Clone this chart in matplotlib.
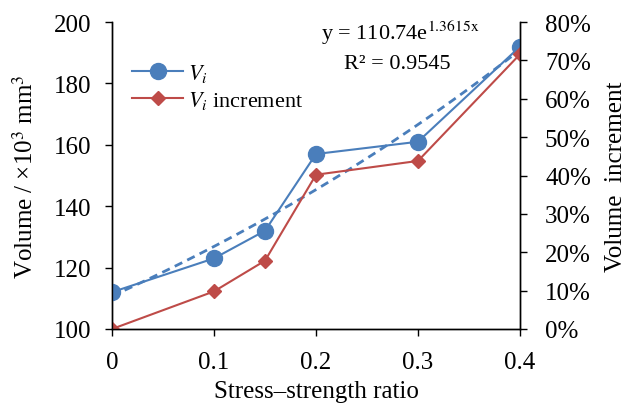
import numpy as np
import matplotlib
matplotlib.use("Agg")
import matplotlib.pyplot as plt
from matplotlib.ticker import PercentFormatter

plt.rcParams['font.family'] = ['Liberation Serif', 'DejaVu Serif']
plt.rcParams['mathtext.fontset'] = 'stix'
plt.rcParams['font.size'] = 18

# data
ratio = [0, 0.1, 0.15, 0.2, 0.3, 0.4]
volume = [112, 123, 132, 157, 161, 192]
increment = [0, 9.8, 17.8, 40.2, 43.8, 71.6]   # percent

# exponential trendline shown on the chart
fit_a = 110.74
fit_b = 1.3615

blue = '#4A7EBB'
red = '#BE4B48'

fig = plt.figure(figsize=(6.36, 4.10), dpi=100)
ax = fig.add_axes([112/636, 80/410, 408/636, 307/410])
ax2 = ax.twinx()

l1, = ax.plot(ratio, volume, color=blue, lw=1.5, marker='o', ms=11.5,
              label='$V_i$', zorder=3)
xs = np.linspace(0, 0.4, 100)
ax.plot(xs, fit_a * np.exp(fit_b * xs), color=blue, lw=2, ls=(0, (3, 2)), zorder=2)

l2, = ax2.plot(ratio, increment, color=red, lw=1.5, marker='D', ms=7.5,
               label='$V_i$ increment')

ax.set_xlim(0, 0.4)
ax.set_ylim(100, 200)
ax.set_yticks(range(100, 201, 20))
ax.set_xticks([0, 0.1, 0.2, 0.3, 0.4])
ax.set_xticklabels(['0', '0.1', '0.2', '0.3', '0.4'])
ax2.set_ylim(0, 80)
ax2.set_yticks(range(0, 81, 10))
ax2.yaxis.set_major_formatter(PercentFormatter(decimals=0))

for a in (ax, ax2):
    a.spines['top'].set_visible(False)
    a.tick_params(direction='out', length=5, width=1, labelsize=18)
    for s in a.spines.values():
        s.set_linewidth(1)
ax.tick_params(axis='y', pad=10)
ax2.tick_params(axis='y', pad=13)
ax.tick_params(axis='x', pad=11)

ax.set_xlabel('Stress\u2013strength ratio', fontsize=18, labelpad=5)
ax.set_ylabel('Volume / \u00d710$^3$ mm$^3$', fontsize=18, labelpad=11)
ax2.set_ylabel('Volume  increment', fontsize=18, labelpad=10)

ax.text(0.706, 0.967, 'y = 110.74e$^{\\mathrm{1.3615x}}$', transform=ax.transAxes,
        ha='center', va='center', fontsize=16)
ax.text(0.70, 0.865, 'R\u00b2 = 0.9545', transform=ax.transAxes,
        ha='center', va='center', fontsize=16)

ax.legend(handles=[l1, l2], loc='upper left', bbox_to_anchor=(0.028, 0.9),
          frameon=False, fontsize=16, handlelength=2.3, labelspacing=0.25,
          borderaxespad=0.0, handletextpad=0.2)

fig.savefig('out.png', dpi=100)
